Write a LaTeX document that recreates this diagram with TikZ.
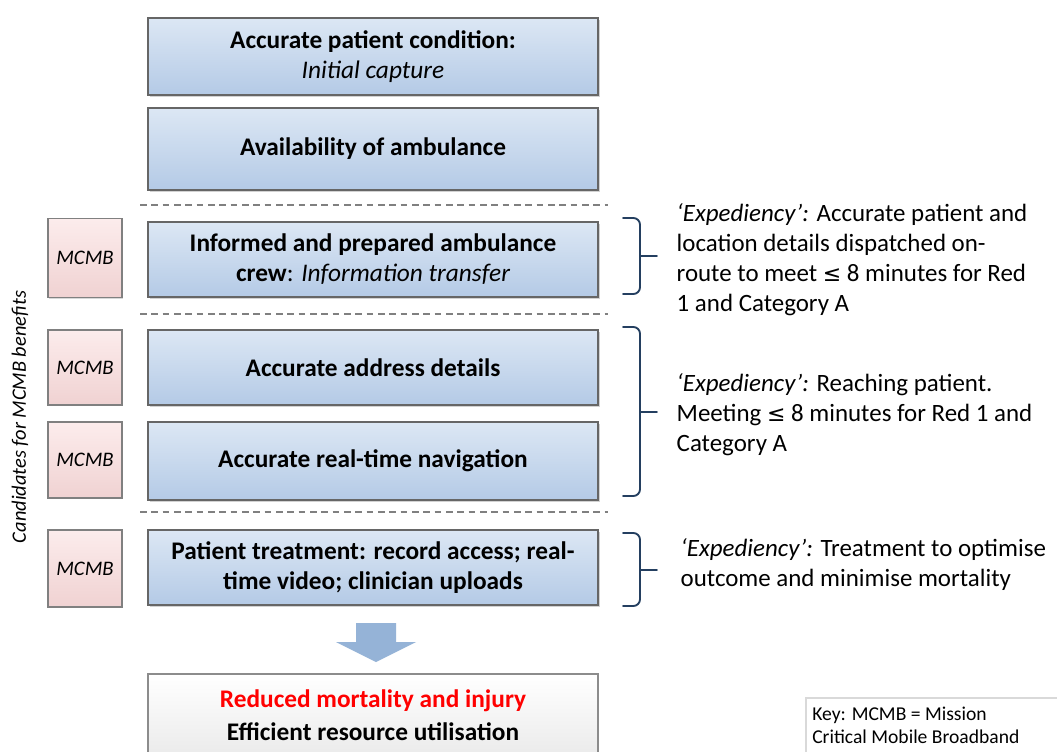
\documentclass[tikz,border=0pt]{standalone}
\usepackage{fontspec}
\setmainfont{Carlito}
\newfontfamily\symfont{DejaVu Sans}
\usetikzlibrary{shadows}
\definecolor{boxtop}{HTML}{DCE7F4}
\definecolor{boxbot}{HTML}{B4CAE6}
\definecolor{pinktop}{HTML}{FCECEC}
\definecolor{pinkbot}{HTML}{F0D2D2}
\definecolor{bracecol}{HTML}{243F60}
\definecolor{arrowcol}{HTML}{95B3D7}
\definecolor{redtxt}{HTML}{FF0000}
\newcommand{\drawbrace}[3]{% top y, bottom y, tip y
  \coordinate (bt) at (623,#1); \coordinate (bc) at (640,#1);
  \coordinate (bm) at (640,#3); \coordinate (bp) at (657,#3);
  \coordinate (bd) at (640,#2); \coordinate (bb) at (623,#2);
  \draw[bracestyle, rounded corners=5pt] (bt) -- (bc) -- (bm);
  \draw[bracestyle, rounded corners=5pt] (bm) -- (bd) -- (bb);
  \draw[bracestyle] (bm) -- (bp);}
\begin{document}
\begin{tikzpicture}[x=0.75pt,y=-0.75pt,
  stagebox/.style={draw=black!60, line width=1.6pt, top color=boxtop, bottom color=boxbot,
    minimum width=337.5pt, align=center, inner sep=2pt,
    font=\fontsize{19}{22.5}\selectfont\bfseries,
    drop shadow={opacity=0.35, shadow xshift=1.5pt, shadow yshift=-1.5pt}},
  mcmbbox/.style={draw=black!50, line width=1.4pt, top color=pinktop, bottom color=pinkbot,
    minimum width=55.5pt, font=\fontsize{15.5}{17}\selectfont\itshape,
    drop shadow={opacity=0.3, shadow xshift=1pt, shadow yshift=-1pt}},
  resultbox/.style={draw=black!45, line width=1.4pt, top color=white, bottom color=black!8,
    minimum width=337.5pt, align=center, font=\fontsize{19}{24.5}\selectfont\bfseries},
  sep/.style={draw=black!50, line width=1.5pt, dash pattern=on 5pt off 3.5pt},
  bracestyle/.style={draw=bracecol, line width=1.4pt, line cap=round},
  note/.style={anchor=west, align=left, font=\fontsize{18.7}{22.5}\selectfont},
]
\clip (0,0) rectangle (1057,751);
\fill[white] (0,0) rectangle (1057,751);

% main stage boxes
\node[stagebox, minimum height=57.75pt] (b1) at (373,56.5)
  {Accurate patient condition:\\\normalfont\itshape Initial capture};
\node[stagebox, minimum height=61.5pt] (b2) at (373,149) {Availability of ambulance};
\node[stagebox, minimum height=56.25pt] (b3) at (373,259.5)
  {Informed and prepared ambulance\\crew\normalfont: \itshape Information transfer};
\node[stagebox, minimum height=56.25pt] (b4) at (373,367.5) {Accurate address details};
\node[stagebox, minimum height=58.5pt] (b5) at (373,461) {Accurate real-time navigation};
\node[stagebox, minimum height=56.25pt] (b6) at (373,567.5)
  {Patient treatment: record access; real-\\time video; clinician uploads};

% dashed separators
\coordinate (s1a) at (140,205); \coordinate (s1b) at (608,205);
\coordinate (s2a) at (140,314); \coordinate (s2b) at (608,314);
\coordinate (s3a) at (140,512); \coordinate (s3b) at (608,512);
\draw[sep] (s1a) -- (s1b);
\draw[sep] (s2a) -- (s2b);
\draw[sep] (s3a) -- (s3b);

% MCMB boxes
\node[mcmbbox, minimum height=59.25pt] (m3) at (85,258) {MCMB};
\node[mcmbbox, minimum height=56.25pt] (m4) at (85,367.5) {MCMB};
\node[mcmbbox, minimum height=57pt] (m5) at (85,460) {MCMB};
\node[mcmbbox, minimum height=57.75pt] (m6) at (85,568.5) {MCMB};

% vertical label
\node[rotate=90, font=\fontsize{15.3}{17}\selectfont\itshape] (cand) at (20,417)
  {Candidates for MCMB benefits};

% braces
\drawbrace{218}{294}{256}
\drawbrace{327}{496}{412}
\drawbrace{533}{606}{570}

% notes
\node[note] (n1) at (672,260)
  {\itshape ‘Expediency’:\upshape{} Accurate patient and\\location details dispatched on-\\route to meet {\symfont\fontsize{16.5}{22.5}\selectfont ≤} 8 minutes for Red\\1 and Category A};
\node[note] (n2) at (672,415)
  {\itshape ‘Expediency’:\upshape{} Reaching patient.\\Meeting {\symfont\fontsize{16.5}{22.5}\selectfont ≤} 8 minutes for Red 1 and\\Category A};
\node[note] (n3) at (676,565)
  {\itshape ‘Expediency’:\upshape{} Treatment to optimise\\outcome and minimise mortality};

% block arrow
\fill[arrowcol] (356,623) -- (396,623) -- (396,642) -- (416,642) -- (376,662)
  -- (336,642) -- (356,642) -- cycle;

% result box
\node[resultbox, minimum height=62pt, anchor=north] (res) at (373,673)
  {\color{redtxt}Reduced mortality and injury\\Efficient resource utilisation};
\node[draw=black!15, line width=1.2pt, minimum width=200pt, minimum height=60pt,
  anchor=north west] (keybox) at (805,697) {};
\node[anchor=north west, align=left, font=\fontsize{14.7}{17}\selectfont, inner sep=0pt]
  (key) at (812,707) {Key: MCMB = Mission\\Critical Mobile Broadband};
\end{tikzpicture}
\end{document}
